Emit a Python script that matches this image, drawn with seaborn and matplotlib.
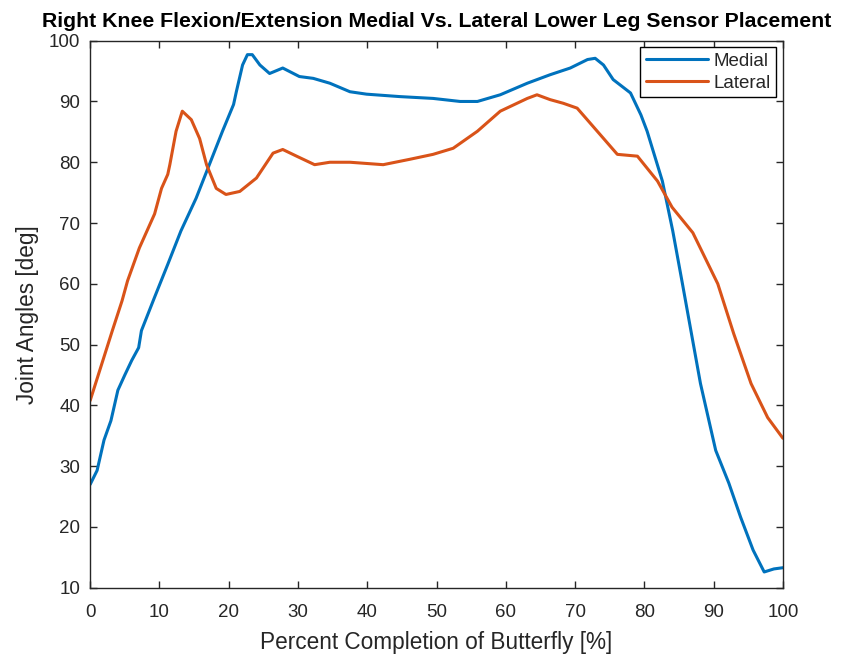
import matplotlib
matplotlib.use("Agg")
import matplotlib.pyplot as plt
import seaborn as sns
import pandas as pd

# Right knee flexion/extension angle over the butterfly stroke cycle
medial_x = [0, 1, 2, 3, 4, 5, 6, 7, 7.4, 9.3, 11.2, 13.1, 15.3, 17.2, 19.1, 20.7,
            21.1, 22, 22.7, 23.4, 24.5, 25.9, 27.8, 30.2, 32.2, 34.6, 37.5, 39.9,
            44.7, 49.5, 53.4, 55.9, 59.2, 63.1, 66.4, 69.3, 71.8, 72.9, 74.1, 75.5,
            78, 79.5, 80.4, 82.6, 84.1, 85.5, 88.1, 90.3, 92.2, 93.9, 95.7, 97.3,
            98.7, 100]
medial_y = [27, 29.3, 34.3, 37.5, 42.5, 45, 47.4, 49.5, 52.3, 57.8, 63.2, 68.7,
            74.1, 79.6, 85.1, 89.5, 91.6, 96, 97.7, 97.7, 96, 94.6, 95.5, 94.1,
            93.8, 93, 91.6, 91.2, 90.8, 90.5, 90, 90, 91.1, 93, 94.4, 95.5, 96.9,
            97.1, 96, 93.6, 91.4, 87.8, 85.1, 76.9, 68.7, 60, 43.6, 32.6, 27.2,
            21.6, 16.2, 12.6, 13.1, 13.3]

lateral_x = [0, 3.2, 4.6, 5.4, 7.1, 9.3, 10.3, 11.2, 11.5, 12.4, 13.3, 14.6, 15.8,
             16.8, 18.2, 19.6, 21.6, 24, 26.4, 27.8, 29.8, 32.4, 34.6, 37.5, 42.3,
             46.2, 49.5, 52.4, 55.9, 59.2, 63.1, 64.5, 66.4, 68.3, 70.3, 73.2, 76.1,
             79, 81.9, 84, 87, 90.6, 92.9, 95.4, 97.8, 100]
lateral_y = [40.8, 52.3, 57.2, 60.5, 65.9, 71.5, 75.7, 78, 79.6, 85.1, 88.4, 87,
             83.9, 79.6, 75.7, 74.7, 75.2, 77.4, 81.5, 82.1, 81, 79.6, 80, 80, 79.6,
             80.5, 81.3, 82.3, 85.1, 88.4, 90.5, 91.1, 90.3, 89.7, 88.9, 85.1, 81.3,
             81, 76.9, 72.6, 68.4, 60, 51.8, 43.6, 38, 34.6]

series_names = ["Medial", "Lateral"]
series_colors = ["#0072BD", "#D95319"]
x_ticks = list(range(0, 101, 10))
y_ticks = list(range(10, 101, 10))

df = pd.concat([
    pd.DataFrame({"pct": medial_x, "angle": medial_y, "placement": series_names[0]}),
    pd.DataFrame({"pct": lateral_x, "angle": lateral_y, "placement": series_names[1]}),
], ignore_index=True)

sns.set_style("white")
plt.rcParams["font.family"] = ["Liberation Sans", "DejaVu Sans"]

fig = plt.figure(figsize=(8.67, 6.56), dpi=100)
ax = fig.add_axes([0.104, 0.104, 0.799, 0.834])

sns.lineplot(data=df, x="pct", y="angle", hue="placement", hue_order=series_names,
             palette=series_colors, estimator=None, sort=False, linewidth=2.2, ax=ax)

ax.set_xlim(0, 100)
ax.set_ylim(10, 100)
ax.set_xticks(x_ticks)
ax.set_yticks(y_ticks)

edge = "#262626"
for s in ax.spines.values():
    s.set_visible(True)
    s.set_color(edge)
    s.set_linewidth(1.0)
ax.tick_params(direction="in", length=5, width=1, colors=edge, labelsize=13.5,
               top=True, right=True, bottom=True, left=True, labelcolor=edge)
ax.tick_params(axis="x", pad=12)
ax.tick_params(axis="y", pad=7)

ax.set_xlabel("Percent Completion of Butterfly [%]", fontsize=16.3, color=edge,
              labelpad=7)
ax.set_ylabel("Joint Angles [deg]", fontsize=16.3, color=edge, labelpad=7)
ax.set_title("Right Knee Flexion/Extension Medial Vs. Lateral Lower Leg Sensor Placement",
             fontsize=15.3, fontweight="bold", color="black", pad=10)

leg = ax.legend(loc="upper right", fontsize=13.5, frameon=True, fancybox=False,
                edgecolor="black", framealpha=1, borderaxespad=0.35,
                handlelength=3.3, borderpad=0.3, labelspacing=0.25, handletextpad=0.3)
leg.get_frame().set_linewidth(1.0)

fig.savefig("out.png", dpi=100, facecolor="white")
